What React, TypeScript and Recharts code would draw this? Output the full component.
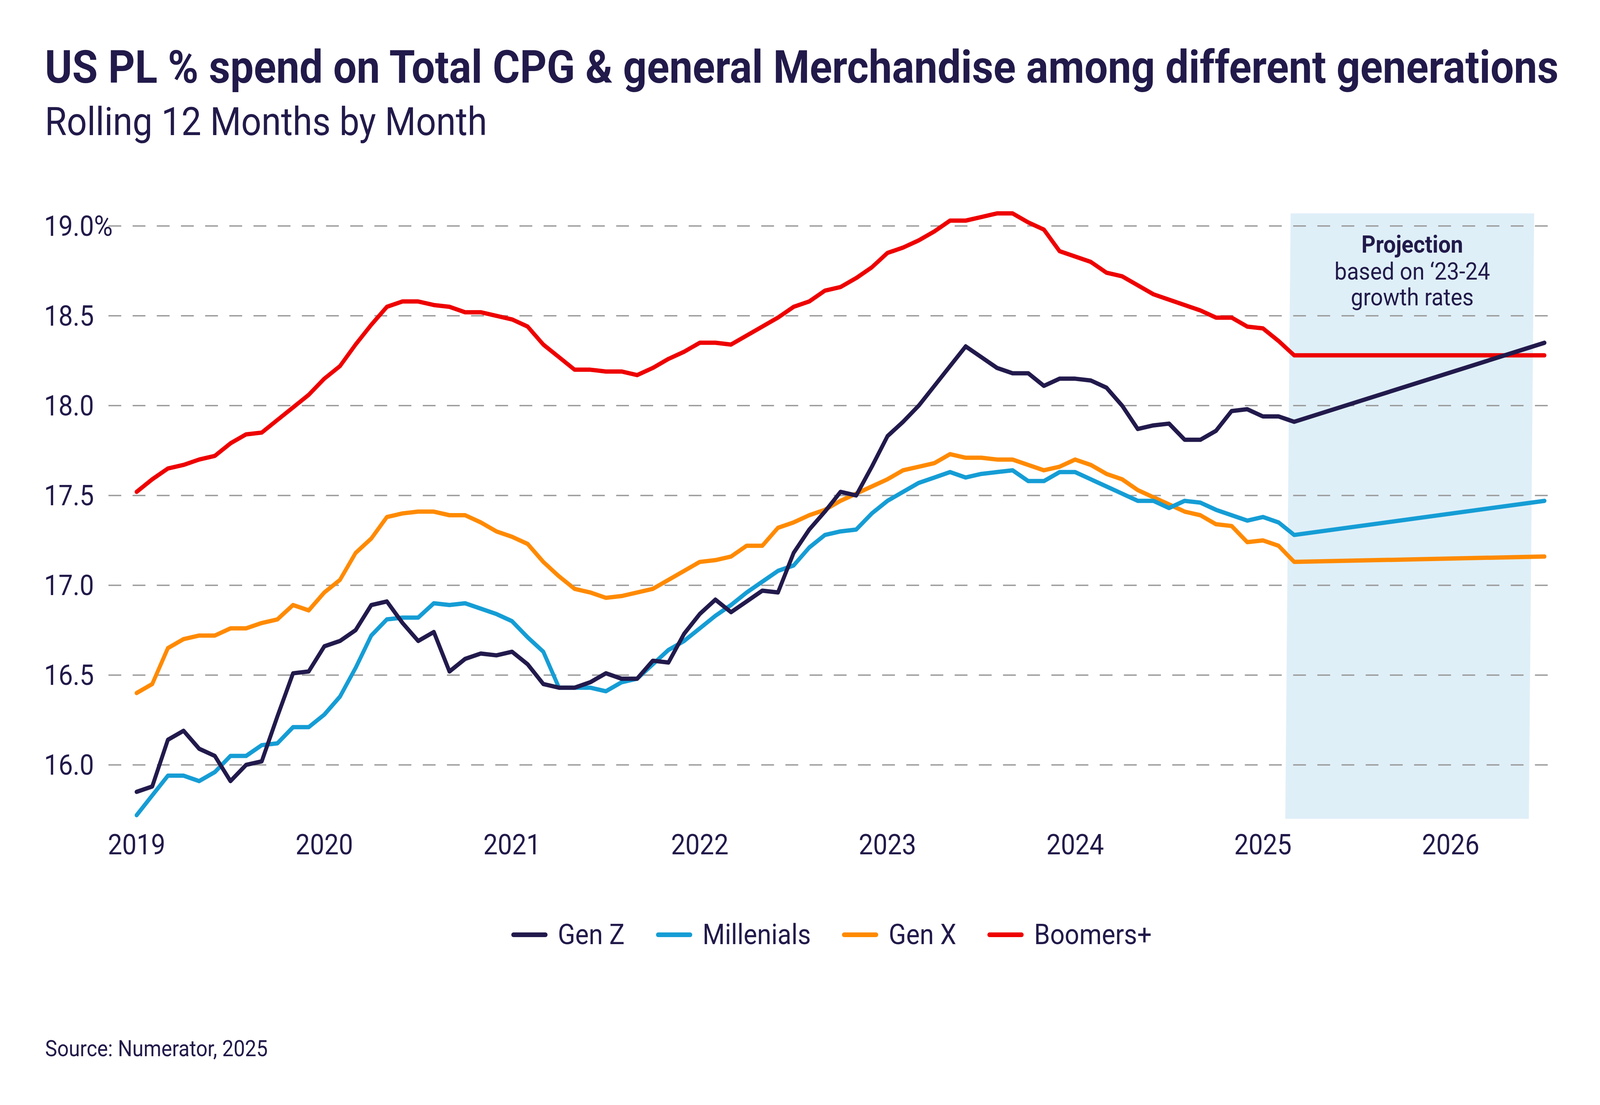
import React from 'react';
import { LineChart, Line, XAxis, YAxis, ReferenceArea, ReferenceLine } from 'recharts';

// month index: 0 = Jan 2019; last point (90) is the end of the projection
const MONTHS = [...Array.from({ length: 75 }, (_, i) => i), 90];

const GEN_Z = [
  15.85, 15.88, 16.14, 16.19, 16.09, 16.05, 15.91, 16.0, 16.02, 16.27, 16.51, 16.52,
  16.66, 16.69, 16.75, 16.89, 16.91, 16.79, 16.69, 16.74, 16.52, 16.59, 16.62, 16.61,
  16.63, 16.56, 16.45, 16.43, 16.43, 16.46, 16.51, 16.48, 16.48, 16.58, 16.57, 16.73,
  16.84, 16.92, 16.85, 16.91, 16.97, 16.96, 17.18, 17.31, 17.41, 17.52, 17.5, 17.66,
  17.83, 17.91, 18.0, 18.11, 18.22, 18.33, 18.27, 18.21, 18.18, 18.18, 18.11, 18.15,
  18.15, 18.14, 18.1, 18.0, 17.87, 17.89, 17.9, 17.81, 17.81, 17.86, 17.97, 17.98,
  17.94, 17.94, 17.91, 18.35,
];

const MILLENIALS = [
  15.72, 15.83, 15.94, 15.94, 15.91, 15.96, 16.05, 16.05, 16.11, 16.12, 16.21, 16.21,
  16.28, 16.38, 16.54, 16.72, 16.81, 16.82, 16.82, 16.9, 16.89, 16.9, 16.87, 16.84,
  16.8, 16.71, 16.63, 16.43, 16.43, 16.43, 16.41, 16.46, 16.48, 16.56, 16.64, 16.69,
  16.76, 16.83, 16.89, 16.96, 17.02, 17.08, 17.11, 17.21, 17.28, 17.3, 17.31, 17.4,
  17.47, 17.52, 17.57, 17.6, 17.63, 17.6, 17.62, 17.63, 17.64, 17.58, 17.58, 17.63,
  17.63, 17.59, 17.55, 17.51, 17.47, 17.47, 17.43, 17.47, 17.46, 17.42, 17.39, 17.36,
  17.38, 17.35, 17.28, 17.47,
];

const GEN_X = [
  16.4, 16.45, 16.65, 16.7, 16.72, 16.72, 16.76, 16.76, 16.79, 16.81, 16.89, 16.86,
  16.96, 17.03, 17.18, 17.26, 17.38, 17.4, 17.41, 17.41, 17.39, 17.39, 17.35, 17.3,
  17.27, 17.23, 17.13, 17.05, 16.98, 16.96, 16.93, 16.94, 16.96, 16.98, 17.03, 17.08,
  17.13, 17.14, 17.16, 17.22, 17.22, 17.32, 17.35, 17.39, 17.42, 17.47, 17.51, 17.55,
  17.59, 17.64, 17.66, 17.68, 17.73, 17.71, 17.71, 17.7, 17.7, 17.67, 17.64, 17.66,
  17.7, 17.67, 17.62, 17.59, 17.53, 17.49, 17.45, 17.41, 17.39, 17.34, 17.33, 17.24,
  17.25, 17.22, 17.13, 17.16,
];

const BOOMERS = [
  17.52, 17.59, 17.65, 17.67, 17.7, 17.72, 17.79, 17.84, 17.85, 17.92, 17.99, 18.06,
  18.15, 18.22, 18.34, 18.45, 18.55, 18.58, 18.58, 18.56, 18.55, 18.52, 18.52, 18.5,
  18.48, 18.44, 18.34, 18.27, 18.2, 18.2, 18.19, 18.19, 18.17, 18.21, 18.26, 18.3,
  18.35, 18.35, 18.34, 18.39, 18.44, 18.49, 18.55, 18.58, 18.64, 18.66, 18.71, 18.77,
  18.85, 18.88, 18.92, 18.97, 19.03, 19.03, 19.05, 19.07, 19.07, 19.02, 18.98, 18.86,
  18.83, 18.8, 18.74, 18.72, 18.67, 18.62, 18.59, 18.56, 18.53, 18.49, 18.49, 18.44,
  18.43, 18.36, 18.28, 18.28,
];

const YEAR_TICKS = [0, 12, 24, 36, 48, 60, 72, 84];
const YEAR_LABELS = ['2019', '2020', '2021', '2022', '2023', '2024', '2025', '2026'];
const Y_TICKS = [16, 16.5, 17, 17.5, 18, 18.5, 19];

const PROJECTION_START = 73.43;
const PROJECTION_END = 89.34;

const SERIES = [
  { key: 'genZ', name: 'Gen Z', color: '#221a4c', values: GEN_Z },
  { key: 'millenials', name: 'Millenials', color: '#159dd5', values: MILLENIALS },
  { key: 'genX', name: 'Gen X', color: '#ff8a00', values: GEN_X },
  { key: 'boomers', name: 'Boomers+', color: '#ee0000', values: BOOMERS },
];

const data = MONTHS.map((m, i) => {
  const row: Record<string, number> = { month: m };
  SERIES.forEach((s) => {
    row[s.key] = s.values[i];
  });
  return row;
});

const NAVY = '#211a4a';
const FONT = 'Roboto, "Noto Sans", sans-serif';
const W = 4500;
const H = 2830;

const XTick = ({ x, payload }: any) => (
  <text x={x} y={2188} textAnchor="middle" fontSize={72} fill={NAVY} fontFamily={FONT}>
    {YEAR_LABELS[YEAR_TICKS.indexOf(payload.value)]}
  </text>
);

const YTick = ({ y, payload }: any) => (
  <text x={124} y={y + 25} textAnchor="start" fontSize={72} fill={NAVY} fontFamily={FONT}>
    {payload.value === 19 ? '19.0%' : payload.value.toFixed(1)}
  </text>
);

const ProjectionShape = ({ x, y, width, height }: any) => {
  const skew = 15;
  return (
    <path
      d={`M${x},${y + height} L${x + skew},${y} L${x + width},${y} L${x + width - skew},${y + height} Z`}
      fill="#dfeff8"
    />
  );
};

const App: React.FC = () => {
  // the page may be narrower than the 4500px design: squeeze horizontally to fit
  const vw = typeof window !== 'undefined' ? window.innerWidth : W;
  const sx = vw < W ? vw / W : 1;
  return (
    <div style={{ width: W * sx, height: H, overflow: 'hidden', background: '#fff' }}>
      <style>{'body{margin:0;background:#fff;overflow:hidden}'}</style>
      <div
        style={{
          position: 'relative',
          width: W,
          height: H,
          fontFamily: FONT,
          transform: `scaleX(${sx})`,
          transformOrigin: '0 0',
        }}
      >
        <LineChart
          width={W}
          height={H}
          data={data}
          margin={{ top: 542, right: 128, bottom: 633, left: 0 }}
        >
          <ReferenceArea
            x1={PROJECTION_START}
            x2={PROJECTION_END}
            y1={15.7}
            y2={19.07}
            shape={<ProjectionShape />}
            ifOverflow="visible"
          />
          {Y_TICKS.map((v) => (
            <ReferenceLine
              key={v}
              y={v}
              stroke="#9b9b9b"
              strokeWidth={3.5}
              strokeDasharray="36 32"
            />
          ))}
          <XAxis
            dataKey="month"
            type="number"
            domain={[-1.8, 90.64]}
            ticks={YEAR_TICKS}
            tick={<XTick />}
            axisLine={false}
            tickLine={false}
            height={100}
            interval={0}
          />
          <YAxis
            type="number"
            domain={[15.7, 19.08]}
            ticks={Y_TICKS}
            tick={<YTick />}
            axisLine={false}
            tickLine={false}
            width={305}
            interval={0}
          />
          {/* Gen Z drawn last so it sits on top */}
          {[...SERIES].reverse().map((s) => (
            <Line
              key={s.key}
              dataKey={s.key}
              name={s.name}
              type="linear"
              stroke={s.color}
              strokeWidth={11}
              strokeLinecap="round"
              strokeLinejoin="round"
              dot={false}
              activeDot={false}
              isAnimationActive={false}
            />
          ))}
        </LineChart>

        <svg
          width={W}
          height={H}
          style={{ position: 'absolute', left: 0, top: 0, pointerEvents: 'none' }}
        >
          <text x={126} y={212} fontSize={117} fontWeight={700} fill={NAVY} fontFamily={FONT}>
            US PL % spend on Total CPG &amp; general Merchandise among different generations
          </text>
          <text x={126} y={346} fontSize={100} fill={NAVY} fontFamily={FONT}>
            Rolling 12 Months by Month
          </text>
          <text x={3972} textAnchor="middle" fontSize={62} fill={NAVY} fontFamily={FONT}>
            <tspan x={3972} y={647} fontWeight={700}>Projection</tspan>
            <tspan x={3972} y={716}>based on ‘23-24</tspan>
            <tspan x={3972} y={782}>growth rates</tspan>
          </text>
          <text x={127} y={2705} fontSize={57} fill={NAVY} fontFamily={FONT}>
            Source: Numerator, 2025
          </text>
        </svg>

        <div
          style={{
            position: 'absolute',
            left: 305,
            width: 4067,
            top: 2344,
            height: 100,
            display: 'flex',
            justifyContent: 'center',
            alignItems: 'center',
            gap: 88,
            fontSize: 72,
            lineHeight: '100px',
            color: NAVY,
          }}
        >
          {SERIES.map((s) => (
            <div key={s.key} style={{ display: 'flex', alignItems: 'center' }}>
              <span
                style={{
                  display: 'inline-block',
                  width: 102,
                  height: 12,
                  borderRadius: 6,
                  background: s.color,
                  marginRight: 29,
                }}
              />
              <span>{s.name}</span>
            </div>
          ))}
        </div>
      </div>
    </div>
  );
};

export default App;
